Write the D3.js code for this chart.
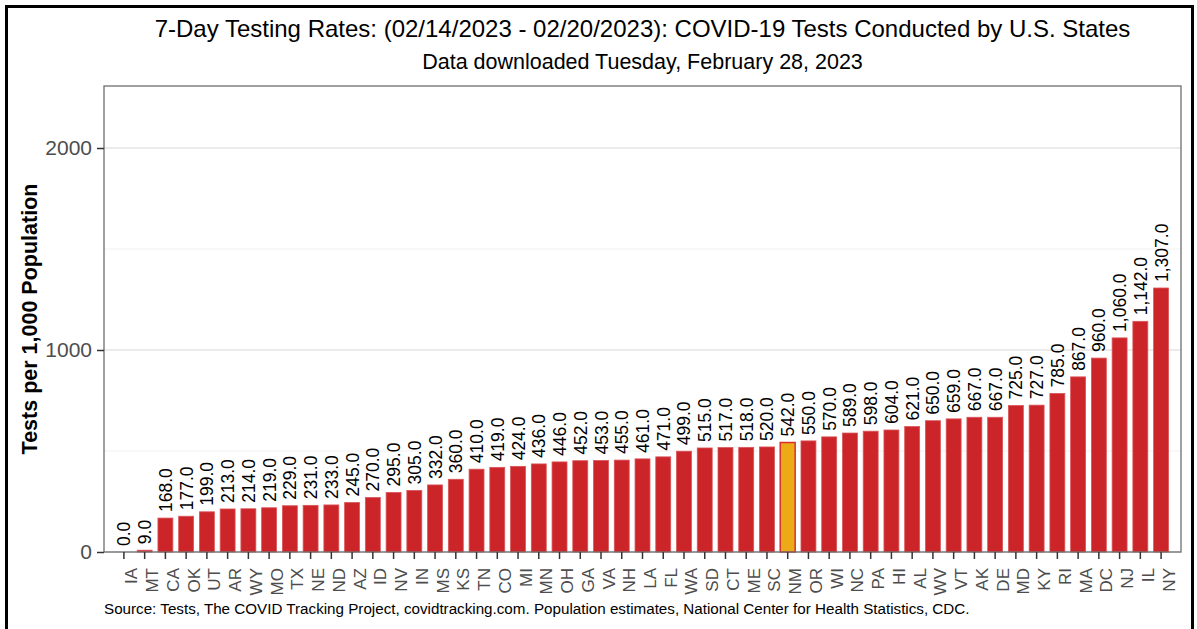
<!DOCTYPE html>
<html>
<head>
<meta charset="utf-8">
<script src="https://cdn.jsdelivr.net/npm/d3@7"></script>
<style>
  body { margin: 0; background: white; }
  svg { display: block; font-family: "Liberation Sans", Arial, sans-serif; }
</style>
</head>
<body>
<div class="chart"></div>
<script>
const width = 1197;
const height = 629;

// data
const states = ['IA','MT','CA','OK','UT','AR','WY','MO','TX','NE','ND','AZ','ID','NV','IN','MS','KS','TN','CO','MI','MN','OH','GA','VA','NH','LA','FL','WA','SD','CT','ME','SC','NM','OR','WI','NC','PA','HI','AL','WV','VT','AK','DE','MD','KY','RI','MA','DC','NJ','IL','NY'];
const rates = [0,9,168,177,199,213,214,219,229,231,233,245,270,295,305,332,360,410,419,424,436,446,452,453,455,461,471,499,515,517,518,520,542,550,570,589,598,604,621,650,659,667,667,725,727,785,867,960,1060,1142,1307];
const highlight = 'NM';
const majorTicks = [0, 1000, 2000];
const minorTicks = [500, 1500];

const titleText = '7-Day Testing Rates: (02/14/2023 - 02/20/2023): COVID-19 Tests Conducted by U.S. States';
const subtitleText = 'Data downloaded Tuesday, February 28, 2023';
const captionText = 'Source: Tests, The COVID Tracking Project, covidtracking.com. Population estimates, National Center for Health Statistics, CDC.';

const data = states.map((s, i) => ({ state: s, rate: rates[i] }));

const panel = { left: 104, right: 1181, top: 86, bottom: 552 };

const svg = d3.select('div.chart').append('svg')
  .attr('width', width)
  .attr('height', height);

// outer frame
svg.append('rect')
  .attr('x', 6.5).attr('y', 6.5)
  .attr('width', 1186).attr('height', 640)
  .attr('fill', 'none')
  .attr('stroke', 'black')
  .attr('stroke-width', 3);

const x = d3.scaleBand()
  .domain(states)
  .range([panel.left, panel.right])
  .paddingInner(0.28)
  .paddingOuter(0.6);

const y = d3.scaleLinear()
  .domain([0, 2307])
  .range([panel.bottom, panel.top]);

// grid lines
svg.append('g').selectAll('line')
  .data(minorTicks)
  .enter().append('line')
  .attr('x1', panel.left).attr('x2', panel.right)
  .attr('y1', d => y(d)).attr('y2', d => y(d))
  .attr('stroke', '#F2F2F2')
  .attr('stroke-width', 1.2);

svg.append('g').selectAll('line')
  .data(majorTicks)
  .enter().append('line')
  .attr('x1', panel.left).attr('x2', panel.right)
  .attr('y1', d => y(d)).attr('y2', d => y(d))
  .attr('stroke', '#EBEBEB')
  .attr('stroke-width', 2);

// bars
svg.append('g').selectAll('rect')
  .data(data)
  .enter().append('rect')
  .attr('x', d => x(d.state))
  .attr('width', x.bandwidth())
  .attr('y', d => y(d.rate))
  .attr('height', d => y(0) - y(d.rate))
  .attr('fill', d => d.state === highlight ? '#EDAA17' : '#CC2529')
  .attr('stroke', d => d.state === highlight ? '#D8302F' : '#DA5558')
  .attr('stroke-width', d => d.state === highlight ? 1.5 : 0.8);

// value labels
const fmt = d3.format(',.1f');
svg.append('g').selectAll('text')
  .data(data)
  .enter().append('text')
  .attr('transform', d => `translate(${x(d.state) + x.bandwidth() / 2 + 6.5}, ${y(d.rate) - 6}) rotate(-90)`)
  .attr('font-size', 17.5)
  .attr('fill', 'black')
  .text(d => fmt(d.rate));

// panel border
svg.append('rect')
  .attr('x', panel.left).attr('y', panel.top)
  .attr('width', panel.right - panel.left)
  .attr('height', panel.bottom - panel.top)
  .attr('fill', 'none')
  .attr('stroke', '#6E6E6E')
  .attr('stroke-width', 1.3);

// y axis
const yAxis = svg.append('g')
  .attr('transform', `translate(${panel.left}, 0)`)
  .call(d3.axisLeft(y).tickValues(majorTicks).tickSize(7).tickPadding(5).tickFormat(d3.format('d')));
yAxis.select('.domain').remove();
yAxis.selectAll('.tick line').attr('stroke', '#333333').attr('stroke-width', 1.5);
yAxis.selectAll('.tick text')
  .attr('fill', '#4D4D4D')
  .attr('font-size', 21)
  .attr('font-family', '"Liberation Sans", Arial, sans-serif');

// x axis
const xAxis = svg.append('g')
  .attr('transform', `translate(0, ${panel.bottom})`)
  .call(d3.axisBottom(x).tickSize(7).tickPadding(0));
xAxis.select('.domain').remove();
xAxis.selectAll('.tick line').attr('stroke', '#333333').attr('stroke-width', 1.5);
xAxis.selectAll('.tick text')
  .attr('fill', '#4D4D4D')
  .attr('font-size', 17)
  .attr('font-family', '"Liberation Sans", Arial, sans-serif')
  .attr('text-anchor', 'end')
  .attr('dy', null)
  .attr('transform', 'translate(6.5, 16) rotate(-90)');

// y axis title
svg.append('text')
  .attr('transform', `translate(37, ${(panel.top + panel.bottom) / 2}) rotate(-90)`)
  .attr('text-anchor', 'middle')
  .attr('font-size', 21.5)
  .attr('font-weight', 'bold')
  .text('Tests per 1,000 Population');

// titles
svg.append('text')
  .attr('x', (panel.left + panel.right) / 2)
  .attr('y', 37)
  .attr('text-anchor', 'middle')
  .attr('font-size', 24)
  .text(titleText);

svg.append('text')
  .attr('x', (panel.left + panel.right) / 2)
  .attr('y', 69)
  .attr('text-anchor', 'middle')
  .attr('font-size', 21.5)
  .text(subtitleText);

svg.append('text')
  .attr('x', panel.left)
  .attr('y', 614)
  .attr('font-size', 15.2)
  .text(captionText);
</script>
</body>
</html>
